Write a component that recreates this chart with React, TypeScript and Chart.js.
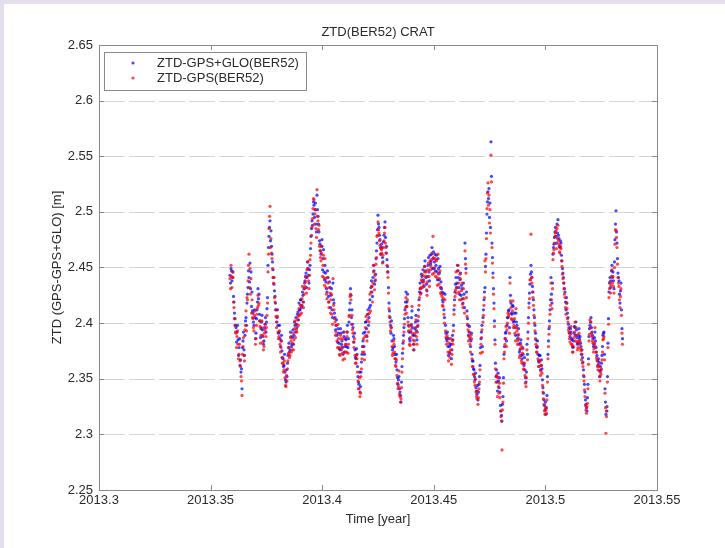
import React, { useEffect, useRef } from "react";
import { Chart, registerables } from "chart.js";

Chart.register(...registerables);

// ---- Data ----
const TITLE = "ZTD(BER52) CRAT";
const X_LABEL = "Time [year]";
const Y_LABEL = "ZTD (GPS-GPS+GLO) [m]";
const SERIES_NAMES = ["ZTD-GPS+GLO(BER52)", "ZTD-GPS(BER52)"];

// regular sampling epochs (decimal year); second set of samples sits half a step later
const START_EPOCH = 2013.35869;
const EPOCH_STEP = 0.000448;

const X_TICKS = [2013.3, 2013.35, 2013.4, 2013.45, 2013.5, 2013.55];
const Y_TICKS = [2.25, 2.3, 2.35, 2.4, 2.45, 2.5, 2.55, 2.6, 2.65];

// ZTD GPS+GLO [m], epochs START + i*STEP
const ztdGpsGlo = [
  2.443, 2.449, 2.438, 2.446,
  2.419, 2.404, 2.396,
  2.392, 2.385, 2.378, 2.362, 2.356, 2.341, 2.384, 2.376, 2.389,
  2.405, 2.418, 2.432, 2.441, 2.454, 2.446, 2.428,
  2.409, 2.398, 2.405, 2.391, 2.412, 2.431, 2.426, 2.402, 2.395, 2.407, 2.388, 2.384, 2.399, 2.392, 2.413,
  2.452, 2.478, 2.492, 2.483, 2.462, 2.448,
  2.435, 2.424, 2.412,
  2.405, 2.398, 2.392, 2.386, 2.384, 2.375,
  2.368, 2.362, 2.356, 2.347, 2.352, 2.371,
  2.382, 2.376, 2.388, 2.381, 2.394, 2.389, 2.398, 2.405, 2.396, 2.41, 2.418, 2.412, 2.421, 2.416, 2.425,
  2.431, 2.438, 2.445, 2.441, 2.449, 2.436, 2.452,
  2.478, 2.492, 2.498, 2.506, 2.502, 2.489, 2.515, 2.496, 2.482, 2.471,
  2.462, 2.475, 2.458, 2.446, 2.452, 2.437, 2.428, 2.441, 2.419, 2.432,
  2.425, 2.412, 2.436, 2.418, 2.405,
  2.398, 2.389, 2.395, 2.382, 2.376, 2.391, 2.384, 2.372, 2.388, 2.379,
  2.385, 2.392, 2.378, 2.401, 2.418, 2.425, 2.412, 2.396, 2.383, 2.376, 2.368, 2.372,
  2.352, 2.345, 2.338, 2.356, 2.372,
  2.384, 2.379, 2.392, 2.401, 2.388, 2.412,
  2.405, 2.421, 2.432, 2.428, 2.441, 2.447, 2.438,
  2.458, 2.472, 2.497, 2.486, 2.475, 2.462, 2.468, 2.455, 2.479, 2.491, 2.463, 2.457, 2.446,
  2.418, 2.405, 2.391, 2.384, 2.378, 2.386, 2.372, 2.365, 2.358, 2.345, 2.352, 2.338, 2.329, 2.361,
  2.382, 2.396, 2.412, 2.428, 2.419, 2.405, 2.392, 2.384, 2.398, 2.411, 2.389, 2.376, 2.395, 2.407, 2.385, 2.402,
  2.421, 2.436, 2.427, 2.442, 2.448, 2.433, 2.456, 2.441, 2.429, 2.452, 2.446, 2.461, 2.455, 2.468, 2.458, 2.449, 2.462,
  2.452, 2.446, 2.458, 2.439, 2.451,
  2.437, 2.428, 2.419, 2.412, 2.426,
  2.391, 2.384, 2.379, 2.386, 2.373, 2.381, 2.376, 2.385,
  2.412, 2.428, 2.441, 2.436, 2.447, 2.432, 2.439, 2.425, 2.431, 2.418, 2.426, 2.472, 2.449, 2.411,
  2.398, 2.392, 2.386, 2.384, 2.372, 2.366,
  2.358, 2.349, 2.342, 2.336, 2.331, 2.345, 2.362,
  2.386, 2.398, 2.405, 2.421, 2.432,
  2.462, 2.498, 2.518, 2.521, 2.508, 2.563, 2.472,
  2.445, 2.418, 2.385, 2.352, 2.347, 2.355, 2.342, 2.338, 2.321, 2.312, 2.334,
  2.372, 2.386, 2.392, 2.398, 2.405, 2.412, 2.441, 2.418, 2.408, 2.415, 2.402, 2.396, 2.409, 2.398,
  2.389, 2.381, 2.376, 2.385, 2.368, 2.372, 2.362, 2.358, 2.347, 2.381, 2.392,
  2.418, 2.435, 2.452, 2.441, 2.428, 2.412, 2.398,
  2.385, 2.378, 2.372, 2.365, 2.371, 2.362, 2.359,
  2.342, 2.331, 2.322, 2.318, 2.335,
  2.372, 2.395, 2.412, 2.441, 2.418,
  2.462, 2.471, 2.482, 2.478, 2.489, 2.493, 2.476, 2.468, 2.472, 2.456, 2.445,
  2.436, 2.428, 2.412, 2.418, 2.405,
  2.396, 2.388, 2.392, 2.385, 2.378, 2.391, 2.396, 2.401, 2.387, 2.382, 2.395, 2.388, 2.379, 2.376, 2.365,
  2.352, 2.338, 2.327, 2.321, 2.345,
  2.388, 2.398, 2.405, 2.392, 2.386, 2.381, 2.392,
  2.378, 2.371, 2.362, 2.365, 2.352, 2.358, 2.371,
  2.389, 2.392, 2.341, 2.318, 2.325, 2.382,
  2.428, 2.441, 2.438, 2.452, 2.446, 2.431, 2.475, 2.501, 2.472,
  2.445, 2.438, 2.418, 2.436, 2.395,
];

// ZTD GPS+GLO [m], epochs START + (i+0.5)*STEP
const ztdGpsGloMid = [
  2.436, 2.447, 2.441, 2.424,
  2.409, 2.398, 2.383,
  2.398, 2.371, 2.386, 2.367, 2.359, 2.378, 2.392, 2.371, 2.402,
  2.398, 2.426, 2.447, 2.437, 2.431, 2.415, 2.411,
  2.401, 2.412, 2.386, 2.404, 2.419, 2.422, 2.408, 2.387, 2.401, 2.394, 2.381, 2.396, 2.405, 2.401, 2.423,
  2.468, 2.486, 2.474, 2.469, 2.455, 2.441,
  2.429, 2.418, 2.401,
  2.412, 2.391, 2.398, 2.379, 2.389, 2.369,
  2.361, 2.372, 2.349, 2.358, 2.364, 2.378,
  2.374, 2.392, 2.379, 2.387, 2.381, 2.401, 2.392, 2.399, 2.408, 2.403, 2.412, 2.421, 2.414, 2.428, 2.419,
  2.436, 2.442, 2.432, 2.455, 2.443, 2.448, 2.467,
  2.485, 2.488, 2.509, 2.495, 2.508, 2.482, 2.502, 2.489, 2.474, 2.465,
  2.469, 2.448, 2.466, 2.439, 2.445, 2.431, 2.447, 2.424, 2.437, 2.414,
  2.431, 2.405, 2.421, 2.409, 2.394,
  2.403, 2.383, 2.391, 2.377, 2.395, 2.381, 2.378, 2.392, 2.374, 2.386,
  2.379, 2.398, 2.386, 2.412, 2.431, 2.405, 2.399, 2.388, 2.391, 2.369, 2.377, 2.361,
  2.347, 2.356, 2.343, 2.365, 2.379,
  2.391, 2.372, 2.401, 2.395, 2.408, 2.398,
  2.414, 2.416, 2.438, 2.424, 2.452, 2.435, 2.444,
  2.465, 2.484, 2.489, 2.479, 2.468, 2.471, 2.459, 2.473, 2.486, 2.477, 2.469, 2.451, 2.432,
  2.411, 2.398, 2.402, 2.376, 2.389, 2.379, 2.368, 2.372, 2.351, 2.349, 2.341, 2.335, 2.347, 2.373,
  2.389, 2.404, 2.419, 2.415, 2.426, 2.398, 2.386, 2.392, 2.405, 2.396, 2.381, 2.389, 2.401, 2.393, 2.397, 2.412,
  2.428, 2.431, 2.444, 2.437, 2.439, 2.451, 2.447, 2.435, 2.442, 2.459, 2.438, 2.453, 2.462, 2.449, 2.464, 2.455, 2.447,
  2.461, 2.439, 2.449, 2.445, 2.432,
  2.431, 2.421, 2.427, 2.405, 2.398,
  2.386, 2.392, 2.371, 2.379, 2.381, 2.368, 2.389, 2.398,
  2.421, 2.435, 2.432, 2.452, 2.441, 2.426, 2.445, 2.434, 2.422, 2.436, 2.414, 2.458, 2.428, 2.404,
  2.389, 2.397, 2.379, 2.391, 2.366, 2.359,
  2.352, 2.355, 2.339, 2.344, 2.338, 2.352, 2.378,
  2.392, 2.379, 2.412, 2.428, 2.451,
  2.481, 2.509, 2.512, 2.495, 2.486, 2.532, 2.459,
  2.431, 2.402, 2.364, 2.358, 2.339, 2.348, 2.351, 2.326, 2.317, 2.327, 2.351,
  2.379, 2.391, 2.384, 2.405, 2.411, 2.396, 2.425, 2.409, 2.416, 2.401, 2.409, 2.389, 2.401, 2.386,
  2.395, 2.374, 2.382, 2.371, 2.378, 2.364, 2.369, 2.351, 2.356, 2.372, 2.405,
  2.427, 2.444, 2.446, 2.433, 2.421, 2.405, 2.391,
  2.379, 2.384, 2.366, 2.371, 2.358, 2.367, 2.349,
  2.337, 2.326, 2.329, 2.324, 2.352,
  2.384, 2.402, 2.421, 2.426, 2.436,
  2.468, 2.477, 2.486, 2.472, 2.481, 2.479, 2.469, 2.474, 2.461, 2.449, 2.441,
  2.431, 2.419, 2.423, 2.409, 2.399,
  2.391, 2.395, 2.386, 2.379, 2.384, 2.397, 2.389, 2.394, 2.381, 2.389, 2.386, 2.382, 2.372, 2.369, 2.358,
  2.345, 2.331, 2.324, 2.333, 2.368,
  2.395, 2.401, 2.396, 2.389, 2.379, 2.387, 2.384,
  2.374, 2.366, 2.368, 2.357, 2.361, 2.364, 2.379,
  2.391, 2.372, 2.329, 2.321, 2.352, 2.404,
  2.436, 2.432, 2.447, 2.441, 2.438, 2.455, 2.489, 2.482, 2.458,
  2.441, 2.426, 2.429, 2.412, 2.386,
];

// ZTD GPS only [m], epochs START + i*STEP
const ztdGps = [
  2.44, 2.452, 2.432, 2.441,
  2.414, 2.398, 2.391,
  2.388, 2.381, 2.372, 2.366, 2.352, 2.335, 2.379, 2.371, 2.394,
  2.411, 2.423, 2.438, 2.462, 2.449, 2.44, 2.421,
  2.404, 2.393, 2.411, 2.386, 2.408, 2.425, 2.418, 2.397, 2.389, 2.402, 2.383, 2.379, 2.394, 2.388, 2.407,
  2.446, 2.485, 2.505, 2.476, 2.458, 2.441,
  2.441, 2.419, 2.406,
  2.401, 2.392, 2.388, 2.381, 2.378, 2.369,
  2.364, 2.358, 2.351, 2.343, 2.348, 2.366,
  2.378, 2.371, 2.384, 2.376, 2.391, 2.385, 2.402, 2.399, 2.392, 2.406, 2.413, 2.408, 2.416, 2.422, 2.419,
  2.426, 2.433, 2.441, 2.448, 2.455, 2.431, 2.457,
  2.472, 2.486, 2.503, 2.511, 2.498, 2.485, 2.52, 2.492, 2.488, 2.465,
  2.456, 2.469, 2.452, 2.441, 2.458, 2.432, 2.422, 2.436, 2.414, 2.427,
  2.421, 2.408, 2.44, 2.412, 2.401,
  2.392, 2.384, 2.399, 2.378, 2.371, 2.386, 2.379, 2.367, 2.392, 2.374,
  2.381, 2.388, 2.373, 2.406, 2.424, 2.421, 2.407, 2.391, 2.378, 2.371, 2.364, 2.368,
  2.348, 2.341, 2.334, 2.352, 2.368,
  2.379, 2.374, 2.388, 2.406, 2.384, 2.408,
  2.401, 2.426, 2.428, 2.433, 2.436, 2.452, 2.443,
  2.453, 2.478, 2.491, 2.481, 2.47, 2.467, 2.463, 2.461, 2.474, 2.486, 2.468, 2.452, 2.441,
  2.413, 2.401, 2.396, 2.379, 2.373, 2.381, 2.368, 2.361, 2.353, 2.341, 2.357, 2.334, 2.332, 2.356,
  2.377, 2.392, 2.408, 2.423, 2.415, 2.401, 2.397, 2.38, 2.394, 2.415, 2.385, 2.381, 2.391, 2.403, 2.381, 2.398,
  2.416, 2.431, 2.432, 2.438, 2.443, 2.437, 2.451, 2.446, 2.425, 2.448, 2.442, 2.456, 2.451, 2.463, 2.478, 2.445, 2.458,
  2.457, 2.441, 2.462, 2.435, 2.447,
  2.432, 2.424, 2.415, 2.408, 2.421,
  2.387, 2.389, 2.374, 2.382, 2.369, 2.386, 2.372, 2.381,
  2.408, 2.424, 2.446, 2.432, 2.452, 2.428, 2.444, 2.421, 2.436, 2.414, 2.422, 2.465, 2.445, 2.406,
  2.394, 2.388, 2.381, 2.389, 2.368, 2.361,
  2.354, 2.344, 2.338, 2.332, 2.327, 2.341, 2.358,
  2.381, 2.394, 2.401, 2.416, 2.456,
  2.458, 2.503, 2.526, 2.515, 2.502, 2.551, 2.468,
  2.441, 2.413, 2.381, 2.347, 2.352, 2.351, 2.337, 2.333, 2.316, 2.286, 2.329,
  2.368, 2.381, 2.397, 2.394, 2.409, 2.408, 2.436, 2.414, 2.403, 2.42, 2.398, 2.391, 2.413, 2.393,
  2.384, 2.386, 2.371, 2.38, 2.364, 2.377, 2.358, 2.353, 2.343, 2.376, 2.386,
  2.414, 2.439, 2.48, 2.436, 2.423, 2.407, 2.393,
  2.381, 2.374, 2.368, 2.361, 2.366, 2.357, 2.355,
  2.338, 2.327, 2.318, 2.322, 2.331,
  2.368, 2.39, 2.408, 2.436, 2.413,
  2.457, 2.466, 2.478, 2.483, 2.485, 2.488, 2.471, 2.463, 2.467, 2.451, 2.44,
  2.431, 2.423, 2.408, 2.413, 2.401,
  2.392, 2.383, 2.397, 2.381, 2.374, 2.387, 2.401, 2.396, 2.383, 2.378, 2.391, 2.384, 2.375, 2.372, 2.361,
  2.348, 2.334, 2.322, 2.325, 2.341,
  2.384, 2.403, 2.401, 2.388, 2.382, 2.377, 2.396,
  2.374, 2.367, 2.358, 2.361, 2.348, 2.354, 2.367,
  2.385, 2.388, 2.337, 2.301, 2.321, 2.378,
  2.423, 2.437, 2.434, 2.448, 2.442, 2.427, 2.471, 2.483, 2.468,
  2.441, 2.433, 2.414, 2.431, 2.391,
];

// ZTD GPS only [m], epochs START + (i+0.5)*STEP
const ztdGpsMid = [
  2.431, 2.442, 2.446, 2.419,
  2.404, 2.392, 2.378,
  2.393, 2.368, 2.381, 2.361, 2.348, 2.372, 2.387, 2.366, 2.398,
  2.393, 2.421, 2.452, 2.432, 2.426, 2.409, 2.405,
  2.396, 2.407, 2.381, 2.398, 2.414, 2.416, 2.402, 2.382, 2.396, 2.389, 2.376, 2.391, 2.399, 2.396, 2.418,
  2.462, 2.496, 2.468, 2.463, 2.449, 2.436,
  2.423, 2.412, 2.396,
  2.406, 2.386, 2.393, 2.374, 2.384, 2.364,
  2.356, 2.366, 2.344, 2.353, 2.359, 2.373,
  2.369, 2.387, 2.374, 2.382, 2.376, 2.395, 2.387, 2.394, 2.403, 2.398, 2.407, 2.416, 2.409, 2.433, 2.414,
  2.431, 2.437, 2.427, 2.449, 2.438, 2.443, 2.461,
  2.479, 2.494, 2.512, 2.489, 2.502, 2.477, 2.496, 2.484, 2.469, 2.459,
  2.463, 2.442, 2.461, 2.434, 2.44, 2.426, 2.441, 2.419, 2.432, 2.409,
  2.426, 2.399, 2.416, 2.404, 2.389,
  2.398, 2.378, 2.386, 2.372, 2.389, 2.376, 2.373, 2.386, 2.368, 2.381,
  2.374, 2.392, 2.381, 2.407, 2.426, 2.399, 2.394, 2.383, 2.386, 2.364, 2.371, 2.356,
  2.341, 2.351, 2.337, 2.359, 2.374,
  2.386, 2.367, 2.396, 2.389, 2.403, 2.392,
  2.409, 2.411, 2.433, 2.419, 2.446, 2.43, 2.439,
  2.459, 2.479, 2.484, 2.474, 2.462, 2.466, 2.454, 2.468, 2.481, 2.472, 2.463, 2.446, 2.427,
  2.406, 2.393, 2.396, 2.371, 2.384, 2.374, 2.362, 2.367, 2.346, 2.343, 2.336, 2.329, 2.342, 2.368,
  2.384, 2.399, 2.414, 2.409, 2.421, 2.393, 2.381, 2.387, 2.399, 2.391, 2.376, 2.384, 2.396, 2.388, 2.392, 2.406,
  2.423, 2.426, 2.439, 2.432, 2.434, 2.446, 2.442, 2.43, 2.437, 2.454, 2.433, 2.448, 2.457, 2.444, 2.459, 2.45, 2.442,
  2.456, 2.434, 2.444, 2.44, 2.427,
  2.426, 2.416, 2.422, 2.4, 2.393,
  2.381, 2.387, 2.366, 2.374, 2.376, 2.363, 2.384, 2.393,
  2.416, 2.43, 2.427, 2.447, 2.436, 2.421, 2.44, 2.429, 2.417, 2.431, 2.409, 2.453, 2.423, 2.399,
  2.384, 2.392, 2.374, 2.386, 2.361, 2.354,
  2.347, 2.35, 2.334, 2.339, 2.333, 2.347, 2.373,
  2.387, 2.374, 2.407, 2.423, 2.446,
  2.476, 2.517, 2.506, 2.49, 2.481, 2.527, 2.454,
  2.426, 2.397, 2.359, 2.353, 2.334, 2.343, 2.346, 2.321, 2.312, 2.322, 2.346,
  2.374, 2.386, 2.379, 2.4, 2.406, 2.391, 2.42, 2.404, 2.411, 2.396, 2.404, 2.384, 2.396, 2.381,
  2.39, 2.369, 2.377, 2.366, 2.373, 2.359, 2.364, 2.346, 2.351, 2.367, 2.4,
  2.422, 2.439, 2.441, 2.428, 2.416, 2.4, 2.386,
  2.374, 2.379, 2.361, 2.366, 2.353, 2.362, 2.344,
  2.332, 2.321, 2.324, 2.319, 2.347,
  2.379, 2.397, 2.416, 2.421, 2.431,
  2.463, 2.472, 2.481, 2.467, 2.476, 2.474, 2.464, 2.469, 2.456, 2.444, 2.436,
  2.426, 2.414, 2.418, 2.404, 2.394,
  2.386, 2.39, 2.381, 2.374, 2.379, 2.392, 2.384, 2.389, 2.376, 2.384, 2.381, 2.377, 2.367, 2.364, 2.353,
  2.34, 2.326, 2.319, 2.328, 2.363,
  2.39, 2.396, 2.391, 2.384, 2.374, 2.382, 2.379,
  2.369, 2.361, 2.363, 2.352, 2.356, 2.359, 2.374,
  2.386, 2.367, 2.324, 2.316, 2.347, 2.399,
  2.431, 2.427, 2.442, 2.436, 2.433, 2.45, 2.484, 2.477, 2.453,
  2.436, 2.421, 2.424, 2.407, 2.381,
];

const BLUE = "rgba(0,0,255,0.72)";
const RED = "rgba(255,0,0,0.72)";
const FONT = "'Liberation Sans', Arial, Helvetica, sans-serif";
const AXIS_COLOR = "#8a8a8a";
const TEXT_COLOR = "#2a2a2a";

function toPoints(values: number[], mid: number[]) {
  const pts: { x: number; y: number }[] = [];
  values.forEach((v, i) => {
    pts.push({ x: START_EPOCH + i * EPOCH_STEP, y: v });
    if (i < mid.length) pts.push({ x: START_EPOCH + (i + 0.5) * EPOCH_STEP, y: mid[i] });
  });
  return pts;
}

const fmt = (v: number) => String(Math.round(v * 100) / 100);

const decorPlugin = {
  id: "matlabDecor",
  beforeDatasetsDraw(chart: any) {
    const { ctx, chartArea } = chart;
    const ys = chart.scales.y;
    ctx.save();
    ctx.strokeStyle = "#d6d6d6";
    ctx.lineWidth = 1;
    ctx.setLineDash([26, 4]);
    Y_TICKS.forEach((t) => {
      const py = Math.round(ys.getPixelForValue(t)) + 0.5;
      if (py <= chartArea.top + 1 || py >= chartArea.bottom - 1) return;
      ctx.beginPath();
      ctx.moveTo(chartArea.left, py);
      ctx.lineTo(chartArea.right, py);
      ctx.stroke();
    });
    ctx.restore();
  },
  afterDatasetsDraw(chart: any) {
    const { ctx, chartArea } = chart;
    const xs = chart.scales.x;
    const ys = chart.scales.y;
    const { left, right, top, bottom } = chartArea;
    ctx.save();
    ctx.strokeStyle = AXIS_COLOR;
    ctx.lineWidth = 1;
    ctx.setLineDash([]);
    ctx.strokeRect(Math.round(left) + 0.5, Math.round(top) + 0.5, Math.round(right - left), Math.round(bottom - top));
    const TL = 5;
    ctx.beginPath();
    X_TICKS.forEach((t) => {
      const px = Math.round(xs.getPixelForValue(t)) + 0.5;
      ctx.moveTo(px, bottom);
      ctx.lineTo(px, bottom - TL);
      ctx.moveTo(px, top);
      ctx.lineTo(px, top + TL);
    });
    Y_TICKS.forEach((t) => {
      const py = Math.round(ys.getPixelForValue(t)) + 0.5;
      ctx.moveTo(left, py);
      ctx.lineTo(left + TL, py);
      ctx.moveTo(right, py);
      ctx.lineTo(right - TL, py);
    });
    ctx.stroke();

    ctx.fillStyle = TEXT_COLOR;
    ctx.textAlign = "center";
    ctx.textBaseline = "middle";
    ctx.font = `13px ${FONT}`;
    ctx.fillText(TITLE, (left + right) / 2, 32);
    ctx.fillText(X_LABEL, (left + right) / 2, 519);
    ctx.save();
    ctx.translate(57, (top + bottom) / 2);
    ctx.rotate(-Math.PI / 2);
    ctx.fillText(Y_LABEL, 0, 0);
    ctx.restore();

    const lx = left + 5;
    const ly = top + 7;
    const lw = 202;
    const lh = 38;
    ctx.fillStyle = "#ffffff";
    ctx.fillRect(lx, ly, lw, lh);
    ctx.strokeStyle = AXIS_COLOR;
    ctx.strokeRect(Math.round(lx) + 0.5, Math.round(ly) + 0.5, lw, lh);
    const entries = [
      { name: SERIES_NAMES[0], color: BLUE, y: ly + 11 },
      { name: SERIES_NAMES[1], color: RED, y: ly + 26 },
    ];
    entries.forEach((e) => {
      ctx.fillStyle = e.color;
      ctx.beginPath();
      ctx.arc(lx + 29, e.y, 1.6, 0, Math.PI * 2);
      ctx.fill();
      ctx.fillStyle = TEXT_COLOR;
      ctx.textAlign = "left";
      ctx.font = `13px ${FONT}`;
      ctx.fillText(e.name, lx + 53, e.y);
    });
    ctx.restore();
  },
};

export default function App() {
  const canvasRef = useRef<HTMLCanvasElement | null>(null);

  useEffect(() => {
    if (!canvasRef.current) return;
    const chart = new Chart(canvasRef.current, {
      type: "scatter",
      data: {
        datasets: [
          {
            label: SERIES_NAMES[1],
            data: toPoints(ztdGps, ztdGpsMid),
            backgroundColor: RED,
            borderColor: RED,
            borderWidth: 0,
            pointRadius: 1.6,
            pointHoverRadius: 1.6,
          },
          {
            label: SERIES_NAMES[0],
            data: toPoints(ztdGpsGlo, ztdGpsGloMid),
            backgroundColor: BLUE,
            borderColor: BLUE,
            borderWidth: 0,
            pointRadius: 1.6,
            pointHoverRadius: 1.6,
          },
        ],
      },
      options: {
        responsive: false,
        animation: false,
        events: [],
        layout: { padding: { left: 0, right: 68, top: 45, bottom: 0 } },
        plugins: {
          legend: { display: false },
          title: { display: false },
          tooltip: { enabled: false },
        },
        scales: {
          x: {
            type: "linear",
            min: 2013.3,
            max: 2013.55,
            afterFit: (s: any) => {
              s.height = 58;
            },
            afterBuildTicks: (s: any) => {
              s.ticks = X_TICKS.map((v) => ({ value: v }));
            },
            grid: { display: false, drawTicks: false },
            border: { display: false },
            ticks: {
              autoSkip: false,
              maxRotation: 0,
              padding: 3,
              color: TEXT_COLOR,
              font: { family: FONT, size: 13 },
              callback: (v: any) => fmt(Number(v)),
            },
          },
          y: {
            type: "linear",
            min: 2.25,
            max: 2.65,
            afterFit: (s: any) => {
              s.width = 99;
            },
            afterBuildTicks: (s: any) => {
              s.ticks = Y_TICKS.map((v) => ({ value: v }));
            },
            grid: { display: false, drawTicks: false },
            border: { display: false },
            ticks: {
              autoSkip: false,
              padding: 6,
              color: TEXT_COLOR,
              font: { family: FONT, size: 13 },
              callback: (v: any) => fmt(Number(v)),
            },
          },
        },
      },
      plugins: [decorPlugin],
    });
    return () => chart.destroy();
  }, []);

  return (
    <div
      style={{
        position: "fixed",
        left: 0,
        top: 0,
        width: 725,
        height: 548,
        background: "#ffffff",
        overflow: "hidden",
      }}
    >
      <canvas ref={canvasRef} width={725} height={548} style={{ position: "absolute", left: 0, top: 0 }} />
      <div style={{ position: "absolute", left: 0, top: 0, width: 725, height: 4, background: "#e4deed" }} />
      <div style={{ position: "absolute", left: 0, top: 0, width: 4, height: 548, background: "#e4deed" }} />
    </div>
  );
}
